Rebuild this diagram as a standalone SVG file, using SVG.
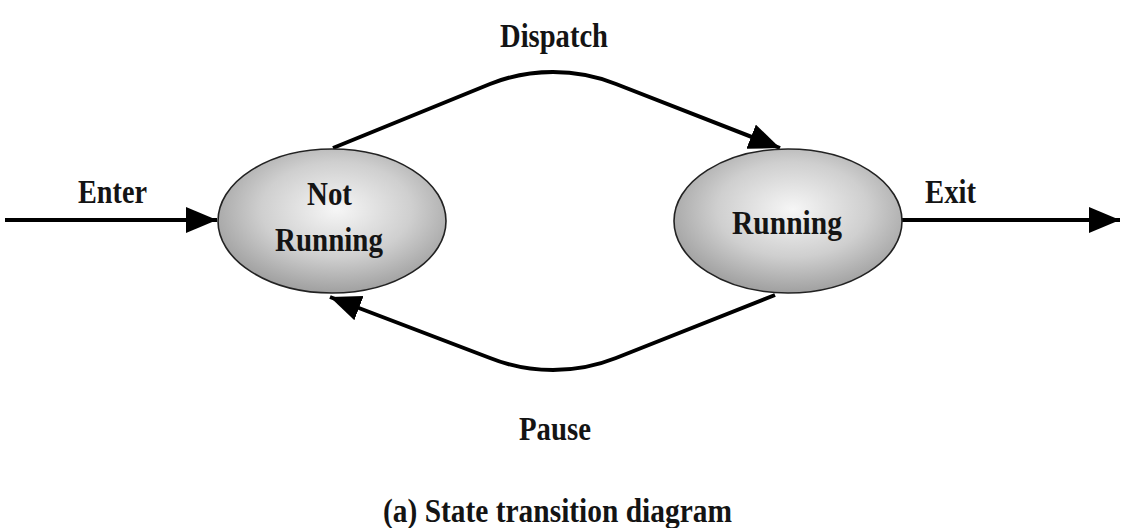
<svg xmlns="http://www.w3.org/2000/svg" width="1134" height="528" viewBox="0 0 1134 528">
<style>
.lbl{font-family:"Liberation Serif","Times New Roman",serif;font-weight:bold;font-size:34px;fill:#141414}
.edge{fill:none;stroke:#000;stroke-width:4;stroke-linejoin:round}
.state{stroke:#222;stroke-width:1.6}
</style>
<defs>
<radialGradient id="g" cx="0.52" cy="0.42" r="0.6">
<stop offset="0" stop-color="#f6f6f6"/>
<stop offset="0.55" stop-color="#cfcfcf"/>
<stop offset="1" stop-color="#9c9c9c"/>
</radialGradient>
<marker id="ah" markerUnits="userSpaceOnUse" markerWidth="34" markerHeight="28" refX="31" refY="13" orient="auto">
<path d="M0,0 L31,13 L0,26 z" fill="#000"/>
</marker>
</defs>
<rect width="1134" height="528" fill="#fff"/>
<g id="connectors">
<path class="edge" d="M5,220 L217,220" marker-end="url(#ah)"/>
<path class="edge" d="M902,220 L1120,220" marker-end="url(#ah)"/>
<path class="edge" d="M333,148 L490,84 C530,68 576,68 616,84 L780,148" marker-end="url(#ah)"/>
<path class="edge" d="M775,295 L616,358 C576,374 530,374 490,358 L330,297" marker-end="url(#ah)"/>
</g>
<g id="not-running">
<ellipse class="state" cx="332" cy="221" rx="114" ry="72" fill="url(#g)"/>
<text class="lbl" x="307" y="205" textLength="45" lengthAdjust="spacingAndGlyphs">Not</text>
<text class="lbl" x="275" y="251" textLength="108" lengthAdjust="spacingAndGlyphs">Running</text>
</g>
<g id="running">
<ellipse class="state" cx="788" cy="221" rx="114" ry="72" fill="url(#g)"/>
<text class="lbl" x="732" y="234" textLength="110" lengthAdjust="spacingAndGlyphs">Running</text>
</g>
<g id="labels">
<text class="lbl" x="500" y="47" textLength="108" lengthAdjust="spacingAndGlyphs">Dispatch</text>
<text class="lbl" x="519" y="440" textLength="72" lengthAdjust="spacingAndGlyphs">Pause</text>
<text class="lbl" x="78" y="203" textLength="69" lengthAdjust="spacingAndGlyphs">Enter</text>
<text class="lbl" x="925" y="203" textLength="51" lengthAdjust="spacingAndGlyphs">Exit</text>
<text class="lbl" x="383" y="522" textLength="349" lengthAdjust="spacingAndGlyphs">(a) State transition diagram</text>
</g>
</svg>
